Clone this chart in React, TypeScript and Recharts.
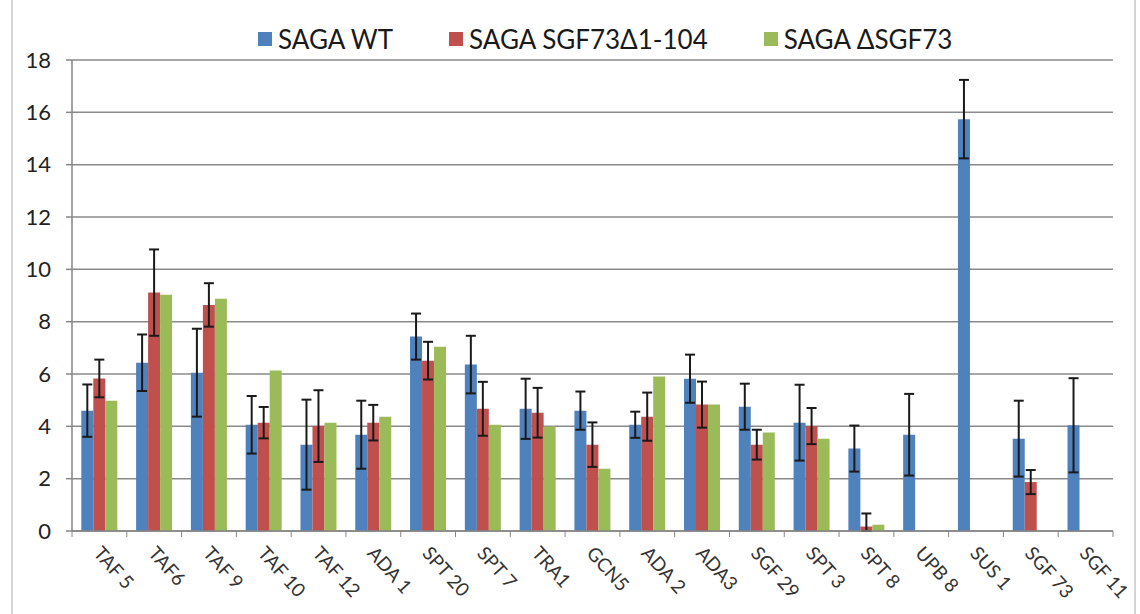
import React from 'react';
import { BarChart, Bar, XAxis, YAxis, CartesianGrid, ErrorBar } from 'recharts';

const categories = ['TAF 5', 'TAF6', 'TAF 9', 'TAF 10', 'TAF 12', 'ADA 1', 'SPT 20', 'SPT 7', 'TRA1', 'GCN5', 'ADA 2', 'ADA3', 'SGF 29', 'SPT 3', 'SPT 8', 'UPB 8', 'SUS 1', 'SGF 73', 'SGF 11'];

const wtValues = [4.6, 6.43, 6.05, 4.06, 3.3, 3.68, 7.43, 6.36, 4.67, 4.6, 4.06, 5.82, 4.75, 4.14, 3.15, 3.68, 15.74, 3.53, 4.04];
const wtErrors = [1.0, 1.08, 1.68, 1.1, 1.72, 1.3, 0.88, 1.1, 1.15, 0.73, 0.5, 0.92, 0.88, 1.45, 0.88, 1.56, 1.5, 1.45, 1.8];

const mutValues = [5.83, 9.11, 8.64, 4.14, 4.01, 4.14, 6.51, 4.67, 4.52, 3.3, 4.37, 4.83, 3.3, 4.01, 0.17, null, null, 1.87, null];
const mutErrors: (number | number[] | null)[] = [0.72, 1.65, 0.83, 0.6, 1.37, 0.68, 0.72, 1.03, 0.95, 0.85, 0.92, 0.88, 0.57, 0.69, [0.17, 0.5], null, null, 0.46, null];

const delValues = [4.98, 9.03, 8.88, 6.13, 4.14, 4.37, 7.04, 4.06, 3.99, 2.38, 5.9, 4.83, 3.76, 3.53, 0.24, null, null, null, null];

const yTicks = [0, 2, 4, 6, 8, 10, 12, 14, 16, 18];

const seriesNames = ['SAGA WT', 'SAGA SGF73\u03941-104', 'SAGA \u0394SGF73'];
const seriesColors = ['#4F81BD', '#C0504D', '#9BBB59'];

const data = categories.map((name, i) => ({
  name,
  wt: wtValues[i],
  wtErr: wtErrors[i],
  mut: mutValues[i],
  mutErr: mutErrors[i],
  del: delValues[i],
}));

const WIDTH = 1140;
const HEIGHT = 614;
const PLOT_LEFT = 72;
const PLOT_RIGHT = 1113;
const STEP = (PLOT_RIGHT - PLOT_LEFT) / categories.length;
const FONT = 'Lato, "Open Sans", sans-serif';

// excel style: tick marks sit between categories, labels slanted down-right
const CategoryTick = (props: any) => {
  const { x, y, payload, index } = props;
  const last = index === categories.length - 1;
  return (
    <g>
      <line x1={x - STEP / 2} x2={x - STEP / 2} y1={y} y2={y + 6} stroke="#868686" />
      {last && <line x1={x + STEP / 2} x2={x + STEP / 2} y1={y} y2={y + 6} stroke="#868686" />}
      <text
        transform={`translate(${x - 7},${y + 23}) rotate(48)`}
        textAnchor="start"
        fontSize={19}
        fontFamily={FONT}
        fill="#333"
      >
        {payload.value}
      </text>
    </g>
  );
};

export default function App() {
  return (
    <div style={{ position: 'absolute', left: 0, top: 0, width: WIDTH, height: HEIGHT, background: '#fff' }}>
      <div
        style={{
          position: 'absolute',
          left: 11,
          top: 0,
          width: 1121,
          height: HEIGHT,
          borderLeft: '2px solid #d4d4d4',
          borderRight: '2px solid #d4d4d4',
        }}
      />
      <BarChart
        width={WIDTH}
        height={HEIGHT}
        data={data}
        margin={{ top: 60, right: WIDTH - PLOT_RIGHT, bottom: 0, left: 12 }}
        barCategoryGap="17%"
        barGap={0}
      >
        <CartesianGrid vertical={false} stroke="#8a8a8a" strokeWidth={1.5} />
        <XAxis
          dataKey="name"
          height={83}
          interval={0}
          tickLine={false}
          tickSize={0}
          tickMargin={0}
          stroke="#868686"
          strokeWidth={1.5}
          tick={<CategoryTick />}
        />
        <YAxis
          width={60}
          domain={[0, 18]}
          ticks={yTicks}
          interval={0}
          stroke="#868686"
          strokeWidth={1.5}
          tickSize={6}
          tickMargin={15}
          tick={{ fontSize: 22, fontFamily: FONT, fill: '#222' }}
        />
        <Bar dataKey="wt" fill={seriesColors[0]} isAnimationActive={false}>
          <ErrorBar dataKey="wtErr" width={5} stroke="#1a1a1a" strokeWidth={2} />
        </Bar>
        <Bar dataKey="mut" fill={seriesColors[1]} isAnimationActive={false}>
          <ErrorBar dataKey="mutErr" width={5} stroke="#1a1a1a" strokeWidth={2} />
        </Bar>
        <Bar dataKey="del" fill={seriesColors[2]} isAnimationActive={false} />
      </BarChart>
      <div
        style={{
          position: 'absolute',
          left: 258,
          top: 23,
          display: 'flex',
          alignItems: 'center',
          gap: 56,
          fontFamily: FONT,
          fontSize: 26,
          color: '#1a1a1a',
          whiteSpace: 'nowrap',
        }}
      >
        {seriesNames.map((s, i) => (
          <div key={s} style={{ display: 'flex', alignItems: 'center', gap: 6 }}>
            <span style={{ display: 'inline-block', width: 14, height: 14, background: seriesColors[i] }} />
            <span>{s}</span>
          </div>
        ))}
      </div>
    </div>
  );
}
